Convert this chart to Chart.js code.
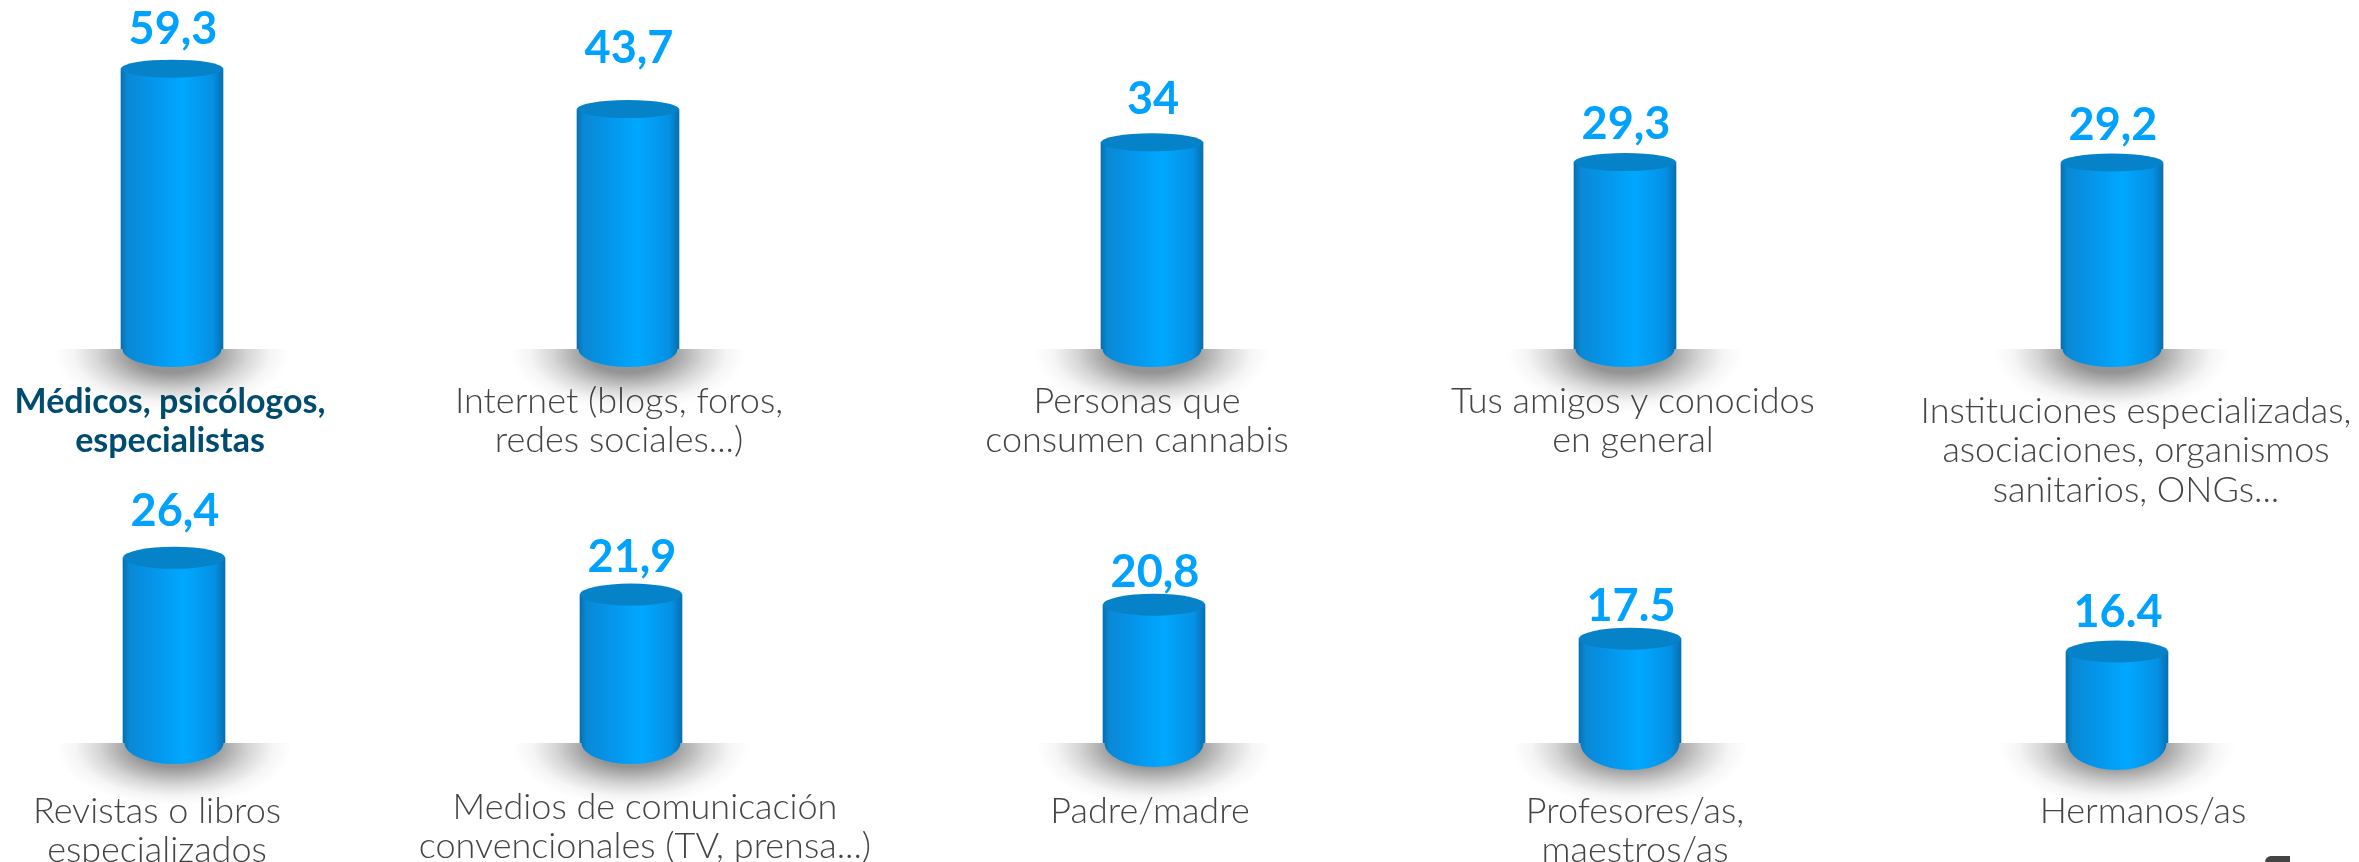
<!DOCTYPE html>
<html lang="es">
<head>
<meta charset="utf-8">
<title>Fuentes de información sobre cannabis</title>
<script src="https://cdn.jsdelivr.net/npm/chart.js@4"></script>
<style>
    html, body { margin: 0; background: #fff; overflow: hidden; }
    #page { position: relative; width: 2359px; height: 862px; overflow: hidden; }
    #page canvas { position: absolute; }
    #corner { position: absolute; left: 2265px; top: 856px; width: 25px; height: 6px; background: #444; border-top-left-radius: 18px; }
</style>
</head>
<body>
<div id="page"><div id="corner"></div></div>
<script>
// Data
const categories = [
    ['Médicos, psicólogos,', 'especialistas'],
    ['Internet (blogs, foros,', 'redes sociales...)'],
    ['Personas que', 'consumen cannabis'],
    ['Tus amigos y conocidos', 'en general'],
    ['Instituciones especializadas,', 'asociaciones, organismos', 'sanitarios, ONGs...'],
    ['Revistas o libros', 'especializados'],
    ['Medios de comunicación', 'convencionales (TV, prensa...)'],
    ['Padre/madre'],
    ['Profesores/as,', 'maestros/as'],
    ['Hermanos/as']
];
const values = [59.3, 43.7, 34, 29.3, 29.2, 26.4, 21.9, 20.8, 17.5, 16.4];
const valueLabels = ['59,3', '43,7', '34', '29,3', '29,2', '26,4', '21,9', '20,8', '17.5', '16.4'];

// Panel placement (one small chart per category)
const panelCenters = [172, 628, 1152, 1625, 2112, 174, 631, 1154, 1630, 2117];
const labelShifts = [-2, -9, -15, 8, 24, -17, 14, -4, 5, 26];
const labelPads = [33, 33, 33, 33, 43, 49, 45, 49, 49, 49];
const valueGaps = [16, 37, 19, 14, 14, 21, 12, 7, 7, 13];
const baseRadii = [18, 18, 18, 18, 18, 21, 21, 24, 27, 27];

// The cylinders in the source are not proportional to their numbers,
// a log axis per row follows the drawn heights closely
const rows = [
    { top: 0, height: 540, axisHeight: 191, padTop: 9, min: 7.15, max: 93, capRadius: 9 },
    { top: 470, height: 392, axisHeight: 119, padTop: 13, min: 10.3, max: 38.6, capRadius: 11 }
];

const PANEL_WIDTH = 520;
const BAR_WIDTH = 102;
const LABEL_FONT = 'Lato';

const sideGradient = (ctx, cx, halfWidth) => {
    const g = ctx.createLinearGradient(cx - halfWidth, 0, cx + halfWidth, 0);
    g.addColorStop(0, '#0670b0');
    g.addColorStop(0.06, '#0a88d4');
    g.addColorStop(0.3, '#0595ea');
    g.addColorStop(0.6, '#00a8ff');
    g.addColorStop(0.9, '#0590e4');
    g.addColorStop(1, '#0670b0');
    return g;
};

// Floor shadow, bottom and top of the cylinder, number above it
const cylinderPlugin = {
    id: 'cylinder',
    beforeDatasetsDraw(chart, args, opts) {
        const bar = chart.getDatasetMeta(0).data[0];
        const ctx = chart.ctx;
        const base = bar.base;

        ctx.save();
        ctx.beginPath();
        ctx.rect(bar.x - 130, base, 260, 70);
        ctx.clip();
        ctx.translate(bar.x, base + 4);
        ctx.scale(1, 0.5);
        const shadow = ctx.createRadialGradient(0, 0, 40, 0, 0, 118);
        shadow.addColorStop(0, 'rgba(0,0,0,0.42)');
        shadow.addColorStop(0.45, 'rgba(0,0,0,0.16)');
        shadow.addColorStop(0.75, 'rgba(0,0,0,0.04)');
        shadow.addColorStop(1, 'rgba(0,0,0,0)');
        ctx.fillStyle = shadow;
        ctx.fillRect(-130, -10, 260, 200);
        ctx.restore();

        ctx.save();
        ctx.fillStyle = sideGradient(ctx, bar.x, BAR_WIDTH / 2);
        ctx.beginPath();
        ctx.ellipse(bar.x, base, BAR_WIDTH / 2 - 1.5, opts.baseRadius, 0, 0, Math.PI * 2);
        ctx.fill();
        ctx.restore();
    },
    afterDatasetsDraw(chart, args, opts) {
        const bar = chart.getDatasetMeta(0).data[0];
        const ctx = chart.ctx;

        ctx.save();
        ctx.fillStyle = '#0582c8';
        ctx.beginPath();
        ctx.ellipse(bar.x, bar.y, BAR_WIDTH / 2, opts.capRadius, 0, 0, Math.PI * 2);
        ctx.fill();

        ctx.fillStyle = '#00a2ff';
        ctx.font = 'bold 45px ' + LABEL_FONT;
        ctx.textAlign = 'center';
        ctx.textBaseline = 'alphabetic';
        ctx.fillText(opts.text, bar.x + 1, bar.y - opts.capRadius - opts.gap);
        ctx.restore();
    }
};

const page = document.getElementById('page');

categories.forEach((category, i) => {
    const row = rows[i < 5 ? 0 : 1];
    const highlighted = i === 0;

    const canvas = document.createElement('canvas');
    canvas.style.left = (panelCenters[i] - PANEL_WIDTH / 2) + 'px';
    canvas.style.top = row.top + 'px';
    canvas.style.width = PANEL_WIDTH + 'px';
    canvas.style.height = row.height + 'px';
    canvas.width = PANEL_WIDTH;
    canvas.height = row.height;
    page.appendChild(canvas);

    new Chart(canvas, {
        type: 'bar',
        plugins: [cylinderPlugin],
        data: {
            labels: [category],
            datasets: [{
                data: [values[i]],
                barThickness: BAR_WIDTH,
                borderWidth: 0,
                backgroundColor: (context) => sideGradient(context.chart.ctx, PANEL_WIDTH / 2, BAR_WIDTH / 2)
            }]
        },
        options: {
            responsive: false,
            animation: false,
            layout: {
                autoPadding: false,
                padding: { top: row.padTop }
            },
            plugins: {
                legend: { display: false },
                title: { display: false },
                tooltip: { enabled: false },
                cylinder: {
                    text: valueLabels[i],
                    gap: valueGaps[i],
                    capRadius: row.capRadius,
                    baseRadius: baseRadii[i]
                }
            },
            scales: {
                x: {
                    afterFit: (scale) => { scale.height = row.axisHeight; },
                    grid: { display: false, drawTicks: false },
                    border: { display: false },
                    ticks: {
                        autoSkip: false,
                        maxRotation: 0,
                        minRotation: 0,
                        padding: labelPads[i],
                        labelOffset: labelShifts[i],
                        color: highlighted ? '#004c70' : '#444444',
                        font: {
                            family: LABEL_FONT,
                            size: highlighted ? 34 : 36,
                            weight: highlighted ? 'bold' : '300',
                            lineHeight: highlighted ? 1.15 : 1.09
                        }
                    }
                },
                y: {
                    type: 'logarithmic',
                    display: false,
                    min: row.min,
                    max: row.max
                }
            }
        }
    });
});
</script>
</body>
</html>
